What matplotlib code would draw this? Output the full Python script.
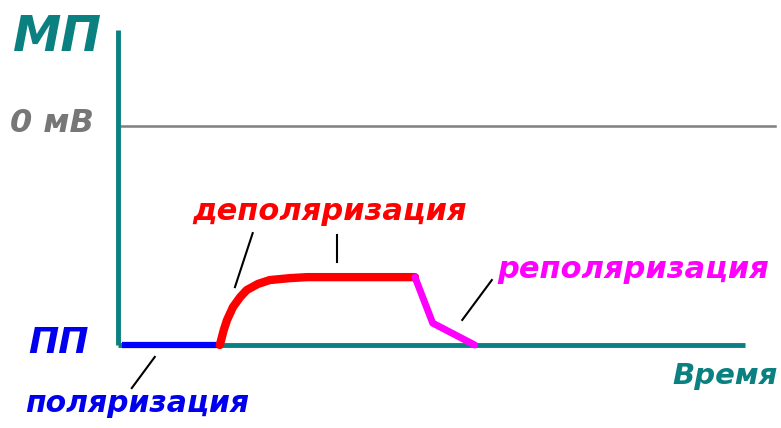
import matplotlib
matplotlib.use("Agg")
import matplotlib.pyplot as plt

# Membrane potential trace (time in arbitrary units, potential in mV)
rest_t = [0.6, 15.5]
rest_v = [-90, -90]

depol_t = [15.5, 16.1, 16.6, 17.5, 18.6, 19.6, 21.3, 23.1, 26.2, 28.8, 45.2]
depol_v = [-90, -83.8, -79.7, -74.4, -70.3, -67.4, -64.9, -63.3, -62.5, -62.1, -62.1]

repol_t = [45.2, 47.9, 54.3]
repol_v = [-62.1, -81.0, -90]

zero_level = 0
rest_level = -90

# Leader strokes from labels to the curve: (t0, v0, t1, v1)
leaders = [
    (5.6, -94.9, 2.1, -107.7),
    (20.5, -44.0, 17.8, -66.2),
    (33.3, -44.8, 33.3, -55.9),
    (56.9, -63.3, 52.4, -79.7),
]

TEAL = "#0a8080"
W, H = 781, 428
fig = plt.figure(figsize=(W / 100, H / 100), dpi=100)
fig.patch.set_facecolor("white")

x0, y_base, x1, y_top = 118, 345, 775, 30
ax = fig.add_axes([x0 / W, 1 - y_base / H, (x1 - x0) / W, (y_base - y_top) / H])
ax.set_xlim(0, 100)
ax.set_ylim(-90, 39.5)
ax.axis("off")

# axes drawn as lines
ax.plot([0, 100], [zero_level, zero_level], color="#7f7f7f", lw=1.8, clip_on=False, zorder=1)
ax.plot([0, 0], [rest_level, 39.5], color=TEAL, lw=3.5, clip_on=False, zorder=2, solid_capstyle="butt")
ax.plot([0, 95.4], [rest_level, rest_level], color=TEAL, lw=3.5, clip_on=False, zorder=2, solid_capstyle="butt")

# phases
ax.plot(rest_t, rest_v, color="#0000ff", lw=4.5, clip_on=False, zorder=3, solid_capstyle="butt")
ax.plot(depol_t, depol_v, color="#ff0000", lw=6.0, clip_on=False, zorder=4,
        solid_capstyle="round", solid_joinstyle="round")
ax.plot(repol_t, repol_v, color="#ff00ff", lw=5.0, clip_on=False, zorder=4,
        solid_capstyle="round", solid_joinstyle="round")

for (a, b, c, d) in leaders:
    ax.plot([a, c], [b, d], color="black", lw=1.5, clip_on=False, zorder=5)

font = dict(family="DejaVu Sans", weight="bold", style="italic")


def label(px, py, s, color, size, **kw):
    fig.text(px / W, 1 - py / H, s, color=color, fontsize=size, ha="center", va="center", **{**font, **kw})


label(58, 37, "МП", TEAL, 35)
label(52, 124, "0 мВ", "#777777", 23, weight="semibold")
label(58, 343, "ПП", "#0000ee", 26)
label(725, 376, "Время", TEAL, 21)
label(137, 404, "поляризация", "#0000ee", 21.5)
label(330, 212, "деполяризация", "#ff0000", 22)
label(633, 270, "реполяризация", "#ff00ff", 22)

fig.savefig("out.png", dpi=100, facecolor="white")
